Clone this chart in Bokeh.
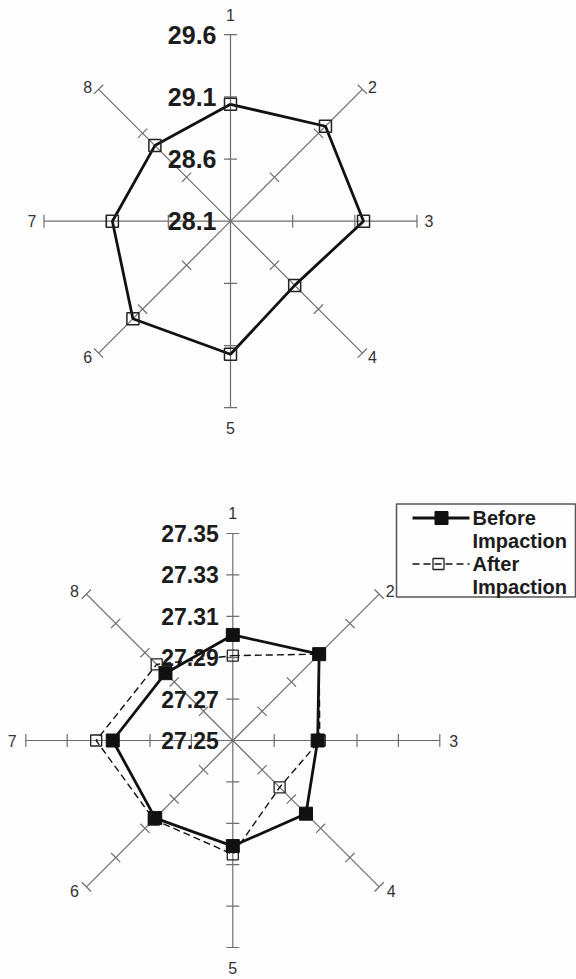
import numpy as np
from bokeh.plotting import figure
from bokeh.layouts import column
from bokeh.models import Range1d
from bokeh.core.properties import value
from bokeh.embed import file_html
from bokeh.resources import INLINE

# ---- data ---------------------------------------------------------------
spokes = ["1", "2", "3", "4", "5", "6", "7", "8"]

# upper radar
top_ticks = ["28.1", "28.6", "29.1", "29.6"]
top_values = [29.04, 29.18, 29.17, 28.83, 29.17, 29.21, 29.05, 28.96]

# lower radar
bottom_ticks = ["27.25", "27.27", "27.29", "27.31", "27.33", "27.35"]
before_values = [27.301, 27.309, 27.291, 27.300, 27.301, 27.303, 27.308, 27.296]
after_values = [27.291, 27.309, 27.292, 27.282, 27.305, 27.304, 27.316, 27.302]
legend_labels = [["Before", "Impaction"], ["After", "Impaction"]]

# ---- styling ------------------------------------------------------------
BG = "#fdfdfd"
AXIS_COLOR = "#6e6e6e"
INK = "#1c1c1c"
FONT = value("Liberation Sans")

W = 576
theta = np.arange(len(spokes)) * np.pi / 4.0
SIN, COS = np.sin(theta), np.cos(theta)


def make_fig(h, cx, cy, k):
    """Figure whose data units are value offsets from the chart centre."""
    p = figure(width=W, height=h,
               x_range=Range1d(-cx * k, (W - cx) * k),
               y_range=Range1d(-(h - cy) * k, cy * k),
               output_backend="svg", toolbar_location=None,
               x_axis_type=None, y_axis_type=None, min_border=0,
               background_fill_color=BG, border_fill_color=BG,
               outline_line_color=None)
    return p


def draw_frame(p, ticks, k, label_size, spoke_offsets):
    levels = np.array([float(t) for t in ticks])
    vmin = levels[0]
    radii = levels - vmin
    rmax = radii[-1]

    # spokes
    p.segment(x0=np.zeros(8), y0=np.zeros(8), x1=rmax * SIN, y1=rmax * COS,
              line_color=AXIS_COLOR, line_width=1.2)

    # tick marks across each spoke
    h = 6.5 * k
    tx0, ty0, tx1, ty1 = [], [], [], []
    for r in radii[1:]:
        for s, c in zip(SIN, COS):
            px, py = r * s, r * c
            tx0.append(px - h * c); ty0.append(py + h * s)
            tx1.append(px + h * c); ty1.append(py - h * s)
    p.segment(x0=tx0, y0=ty0, x1=tx1, y1=ty1, line_color=AXIS_COLOR, line_width=1.2)

    # value labels along spoke 1
    p.text(x=[-14 * k] * len(ticks), y=radii, text=ticks,
           text_font=FONT, text_font_style="bold", text_font_size=label_size,
           text_align="right", text_baseline="middle", text_color=INK)

    # spoke numbers
    lx = rmax * SIN + np.array([o[0] for o in spoke_offsets]) * k
    ly = rmax * COS + np.array([o[1] for o in spoke_offsets]) * k
    p.text(x=lx, y=ly, text=spokes, text_font=FONT, text_font_size="16px",
           text_align="center", text_baseline="middle", text_color="#333333")
    return vmin


def polar(vals, vmin):
    r = np.array(vals) - vmin
    x = r * SIN
    y = r * COS
    return np.append(x, x[0]), np.append(y, y[0]), x, y


# ---- upper chart ----------------------------------------------------------
k_top = 1.5 / 186.5
top = make_fig(470, 230, 220.7, k_top)
vmin = draw_frame(top, top_ticks, k_top, "25px",
                  [(0, 20), (10, 2), (12, 0), (10, -4), (0, -20), (-11, -4), (-12, 0), (-11, 2)])
cx_, cy_, mx, my = polar(top_values, vmin)
top.line(cx_, cy_, line_color="#111111", line_width=2.8)
top.scatter(mx, my, marker="square", size=12, fill_color=None,
            line_color="#222222", line_width=1.5)

# ---- lower chart ----------------------------------------------------------
k_bot = 0.1 / 207.0
bcx, bcy = 232.3, 270.0
bot = make_fig(509, bcx, bcy, k_bot)
vmin = draw_frame(bot, bottom_ticks, k_bot, "23px",
                  [(0, 21), (11, 3.5), (14, 0), (12, -4), (0, -20), (-12, -4), (-13.5, 0), (-12, 3.5)])

ax, ay, amx, amy = polar(after_values, vmin)
bot.line(ax, ay, line_color="#111111", line_width=1.4, line_dash="7 4")
bot.scatter(amx, amy, marker="square", size=11, fill_color=None,
            line_color="#222222", line_width=1.3)

bx, by, bmx, bmy = polar(before_values, vmin)
bot.line(bx, by, line_color="#111111", line_width=2.8)
bot.scatter(bmx, bmy, marker="square", size=13, fill_color="#111111",
            line_color="#111111", line_width=1)


def sx(px):
    return (px - bcx) * k_bot


def sy(py):
    return (bcy - py) * k_bot


# legend box
bot.quad(left=[sx(396)], right=[sx(575)], top=[sy(33.5)], bottom=[sy(126.5)],
         fill_color=None, line_color="#555555", line_width=1.5)
row_y = [47.5, 93.5]
for i, (lines, yy) in enumerate(zip(legend_labels, row_y)):
    if i == 0:
        bot.line([sx(412), sx(469)], [sy(yy)] * 2, line_color="#111111", line_width=2.8)
        bot.scatter([sx(441)], [sy(yy)], marker="square", size=13,
                    fill_color="#111111", line_color="#111111")
    else:
        bot.line([sx(412), sx(469)], [sy(yy)] * 2, line_color="#111111",
                 line_width=1.4, line_dash="7 4")
        bot.scatter([sx(438)], [sy(yy)], marker="square", size=11, fill_color=None,
                    line_color="#222222", line_width=1.3)
    bot.text(x=[sx(472)] * 2, y=[sy(yy), sy(yy + 23)], text=lines,
             text_font=FONT, text_font_style="bold", text_font_size="20px",
             text_align="left", text_baseline="middle", text_color=INK)

layout = column(top, bot, spacing=0)
open("out.html", "w").write(file_html(layout, INLINE))
